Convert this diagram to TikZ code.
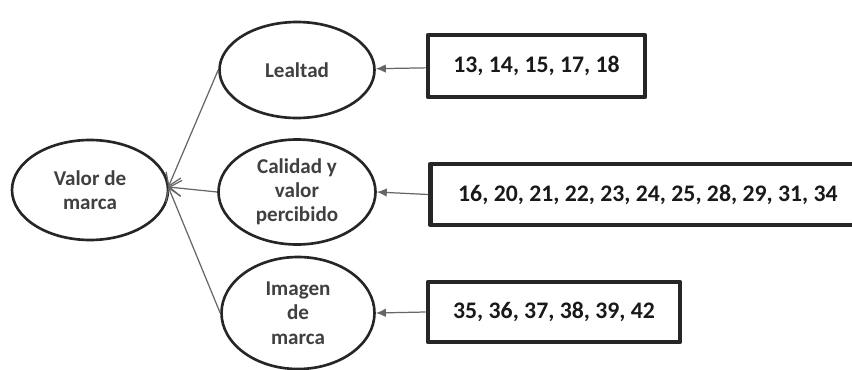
\documentclass[tikz,border=0pt]{standalone}
\usepackage{fontspec}
\setmainfont{Carlito}
\usetikzlibrary{positioning, shapes.geometric, arrows.meta}

\begin{document}
\begin{tikzpicture}[
    line join=round,
    dimension/.style={ellipse, draw=black!85, line width=1.5pt, inner sep=0pt,
        align=center, text=black!75, font=\bfseries\fontsize{12}{13.8}\selectfont},
    items/.style={rectangle, draw=black!85, line width=2.7pt, inner sep=0pt,
        text=black!90, font=\bfseries\fontsize{13.5}{15}\selectfont},
    feed/.style={draw=black!60, line width=0.7pt, -{Latex[length=2mm,width=1.7mm]}}, % box to ellipse
    load/.style={draw=black!60, line width=0.7pt, -{Straight Barb[length=2.4mm,width=3.2mm]}} % towards Valor de marca
]

\useasboundingbox (0,0) rectangle (17.04,7.38);

% Ellipses
\node[dimension, minimum width=3.12cm, minimum height=2cm] (valor) at (1.80,3.58) {Valor de\\marca};
\node[dimension, minimum width=3.1cm, minimum height=1.92cm] (lealtad) at (5.94,5.98) {Lealtad};
\node[dimension, minimum width=3.14cm, minimum height=2.1cm] (calidad) at (5.94,3.54) {Calidad y\\valor\\percibido};
\node[dimension, minimum width=3.06cm, minimum height=2.24cm] (imagen) at (5.96,1.12) {Imagen\\de\\marca};

% Item boxes (the middle one runs past the right edge)
\node[items, minimum width=4.34cm, minimum height=1.24cm] (itemsL) at (10.73,6.06) {13, 14, 15, 17, 18};
\node[items, minimum width=8.7cm, minimum height=1.22cm, anchor=west] (itemsC) at (8.56,3.49) {16, 20, 21, 22, 23, 24, 25, 28, 29, 31, 34};
\node[items, minimum width=5.04cm, minimum height=1.2cm] (itemsI) at (11.08,1.14) {35, 36, 37, 38, 39, 42};

% Arrows
\path[feed] (itemsL) -- (lealtad);
\path[feed] (itemsC.west) -- (calidad.east);
\path[feed] (itemsI.west) -- (imagen.east);

\coordinate (hub) at ([xshift=-0.02cm, yshift=0.06cm]valor.east);
\path[load] (lealtad.west) -- (hub);
\path[load] (calidad.west) -- (hub);
\path[load] (imagen.west) -- (hub);

\end{tikzpicture}
\end{document}
